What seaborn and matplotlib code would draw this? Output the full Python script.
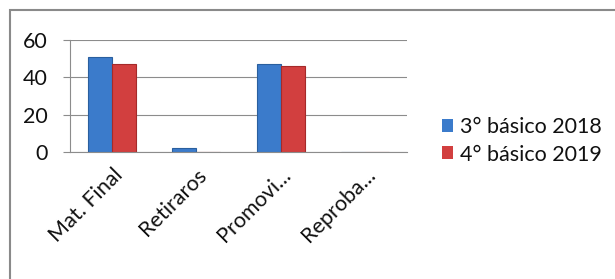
import numpy as np
import pandas as pd
import seaborn as sns
import matplotlib.pyplot as plt
import matplotlib.transforms as mtransforms
from matplotlib.patches import Rectangle

categories = ["Mat. Final", "Retiraros", "Promovi...", "Reproba..."]
series_names = ["3° básico 2018", "4° básico 2019"]
values_2018 = [51, 2, 47, 0]
values_2019 = [47, 0, 46, 0]

df = pd.DataFrame({
    "cat": categories * 2,
    "serie": [series_names[0]] * 4 + [series_names[1]] * 4,
    "valor": values_2018 + values_2019,
})

sns.set_style("white")
plt.rcParams['font.family'] = ['Lato', 'DejaVu Sans']

fig = plt.figure(figsize=(6.15, 2.79), dpi=100)
ax = fig.add_axes([70 / 615, 1 - 152 / 279, 337 / 615, 112 / 279])

palette = {series_names[0]: "#3b7bcb", series_names[1]: "#d23f3f"}
sns.barplot(data=df, x="cat", y="valor", hue="serie", palette=palette,
            width=0.57, gap=0, ax=ax, saturation=1, linewidth=0.8,
            edgecolor="none")
for patch, col in zip(ax.patches, ["#2a5f9e"] * 4 + ["#a52a2a"] * 4):
    patch.set_edgecolor(col)

ax.set_xlim(-0.5, 3.5)
ax.set_ylim(0, 60)
ax.set_yticks([0, 20, 40, 60])
ax.yaxis.grid(True, color="#8c8c8c", linewidth=0.8)
ax.set_axisbelow(True)
ax.set_xlabel("")
ax.set_ylabel("")

ax.set_xticks(range(4))
ax.set_xticklabels(categories, rotation=45, ha="right", rotation_mode="anchor")
shift = mtransforms.ScaledTranslation(6 / 100, 0, fig.dpi_scale_trans)
for lbl in ax.get_xticklabels():
    lbl.set_transform(lbl.get_transform() + shift)
ax.set_xticks(np.arange(-0.5, 4, 1), minor=True)
ax.tick_params(axis="x", which="major", length=0, pad=9, labelsize=15.5,
               labelcolor="#111111")
ax.tick_params(axis="x", which="minor", length=5, width=0.8, color="#8c8c8c", direction="out")
ax.tick_params(axis="y", length=5, width=0.8, color="#8c8c8c", direction="out",
               pad=11, labelsize=15.5, left=True, labelcolor="#111111")

for side in ["top", "right"]:
    ax.spines[side].set_visible(False)
for side in ["left", "bottom"]:
    ax.spines[side].set_color("#8c8c8c")
    ax.spines[side].set_linewidth(0.8)

leg = ax.legend(loc="center left", bbox_to_anchor=(1.045, 0.1), frameon=False,
                fontsize=15.5, handlelength=0.55, handleheight=0.55,
                handletextpad=0.3, labelspacing=0.35)
for t in leg.get_texts():
    t.set_color("#111111")

fig.patches.append(Rectangle((10 / 615, -0.1), 1.2, 1 - 10 / 279 + 0.1,
                             transform=fig.transFigure, fill=False,
                             edgecolor="#8a8a8a", linewidth=1.5))

fig.savefig("out.png", dpi=100)
